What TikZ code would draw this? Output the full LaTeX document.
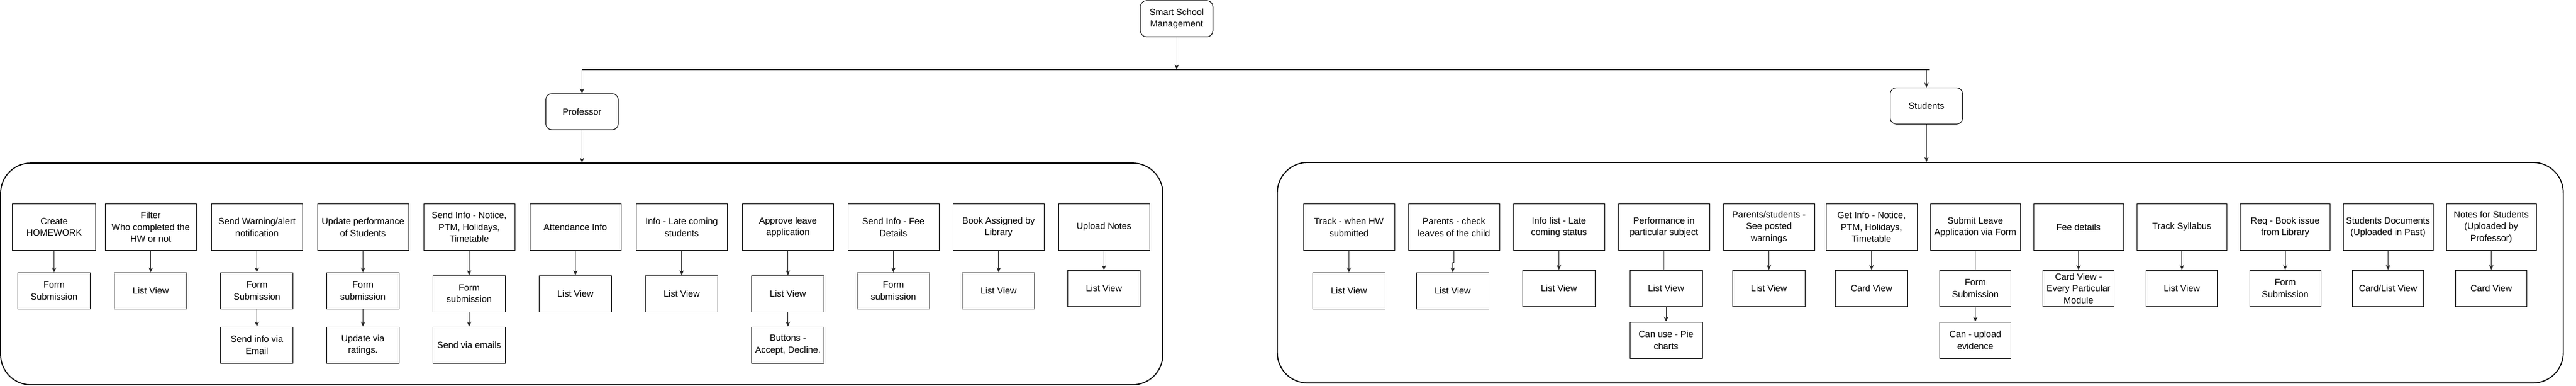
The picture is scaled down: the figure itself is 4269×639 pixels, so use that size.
\documentclass[tikz,border=0pt]{standalone}
\usepackage{fontspec}
\setmainfont{Liberation Sans}
\usetikzlibrary{arrows.meta,calc}
\tikzset{
  txt/.style={font=\fontsize{15pt}{19.5pt}\selectfont, align=center, inner sep=0pt},
  topbox/.style={txt, draw=black, line width=1pt, rectangle, minimum width=151pt, minimum height=77pt},
  subbox/.style={txt, draw=black, line width=1pt, rectangle, minimum width=120pt, minimum height=60pt},
  headbox/.style={txt, draw=black, line width=1pt, rounded corners=10pt, minimum width=120pt, minimum height=60pt},
  cont/.style={draw=black, line width=1.7pt, rounded corners=50pt, inner sep=0pt},
  arr/.style={draw=black!85, line width=0.9pt, -{Stealth[length=8pt,width=7pt,inset=2.5pt]}},
  ln/.style={draw=black!60, line width=0.9pt},
  busline/.style={draw=black, line width=1.8pt}
}
\begin{document}
\begin{tikzpicture}[x=1pt,y=-1pt]
\useasboundingbox (0,0) rectangle (4269,639);

% containers
\node[cont, minimum width=1926pt, minimum height=367pt] (leftc) at (964,453.5) {};
\node[cont, minimum width=2131pt, minimum height=365pt] (rightc) at (3182.3,451.5) {};

% top level
\node[headbox] (ssm) at (1950,31) {Smart School\\Management};
\node[headbox] (prof) at (964.5,185) {Professor};
\node[headbox] (stud) at (3192.5,175.4) {Students};

\coordinate (busL) at (964.5,115);
\coordinate (busM) at (1950,115);
\coordinate (busS) at (3192.5,115);
\coordinate (busR) at (3198,115);
\draw[busline] (busL) -- (busR);
\draw[arr] (ssm) -- (busM);
\draw[arr] (busL) -- (prof);
\draw[arr] (busS) -- (stud);
\draw[arr] (prof) -- (prof.south |- leftc.north);
\draw[arr] (stud) -- (stud.south |- rightc.north);

% ---------- Professor side ----------
\node[topbox, minimum width=137.5pt] (p1) at (89.7,376) {Create\\HOMEWORK};
\node[topbox] (p2) at (249.8,376) {Filter\\Who completed the\\HW or not};
\node[topbox] (p3) at (425.8,376) {Send Warning/alert\\notification};
\node[topbox] (p4) at (601.5,376) {Update performance\\of Students};
\node[topbox] (p5) at (777.5,376) {Send Info - Notice,\\PTM, Holidays,\\Timetable};
\node[topbox] (p6) at (953.5,376) {Attendance Info};
\node[topbox] (p7) at (1129.7,376) {Info - Late coming\\students};
\node[topbox] (p8) at (1305.8,376) {Approve leave\\application};
\node[topbox] (p9) at (1480.5,376) {Send Info - Fee\\Details};
\node[topbox] (p10) at (1654.9,376) {Book Assigned by\\Library};
\node[topbox] (p11) at (1829.5,376) {Upload Notes};

\node[subbox] (p1a) at (89.7,481.3) {Form\\Submission};
\node[subbox] (p2a) at (249.8,481.3) {List View};
\node[subbox] (p3a) at (425.8,481.3) {Form\\Submission};
\node[subbox] (p4a) at (601.5,481.3) {Form\\submission};
\node[subbox] (p5a) at (777.5,486) {Form\\submission};
\node[subbox] (p6a) at (953.5,486) {List View};
\node[subbox] (p7a) at (1129.7,486) {List View};
\node[subbox] (p8a) at (1305.8,486) {List View};
\node[subbox] (p9a) at (1480.5,481.3) {Form\\submission};
\node[subbox] (p10a) at (1654.9,481.3) {List View};
\node[subbox] (p11a) at (1829.5,477.4) {List View};

\node[subbox] (p3b) at (425.8,571) {Send info via\\Email};
\node[subbox] (p4b) at (601.5,571) {Update via\\ratings.};
\node[subbox] (p5b) at (777.5,571) {Send via emails};
\node[subbox] (p8b) at (1305.8,571) {Buttons -\\Accept, Decline.};

\foreach \i in {1,...,11} { \draw[arr] (p\i) -- (p\i a); }
\foreach \i in {3,4,5,8} { \draw[arr] (p\i a) -- (p\i b); }

% ---------- Students side ----------
\node[topbox] (s1) at (2235.5,376) {Track - when HW\\submitted};
\node[topbox] (s2) at (2409.5,376) {Parents - check\\leaves of the child};
\node[topbox] (s3) at (2583.5,376) {Info list - Late\\coming status};
\node[topbox] (s4) at (2757.5,376) {Performance in\\particular subject};
\node[topbox] (s5) at (2931.5,376) {Parents/students -\\See posted\\warnings};
\node[topbox] (s6) at (3101.5,376) {Get Info - Notice,\\PTM, Holidays,\\Timetable};
\node[topbox, minimum width=149pt] (s7) at (3273.5,376) {Submit Leave\\Application via Form};
\node[topbox, minimum width=149pt] (s8) at (3444.5,376) {Fee details};
\node[topbox, minimum width=149pt] (s9) at (3615.8,376) {Track Syllabus};
\node[topbox, minimum width=149pt] (s10) at (3787,376) {Req - Book issue\\from Library};
\node[topbox, minimum width=149pt] (s11) at (3957.5,376) {Students Documents\\(Uploaded in Past)};
\node[topbox, minimum width=149pt] (s12) at (4128.5,376) {Notes for Students\\(Uploaded by\\Professor)};

\node[subbox] (s1a) at (2235.5,481.3) {List View};
\node[subbox] (s2a) at (2407.4,481.3) {List View};
\node[subbox] (s3a) at (2583.5,477.2) {List View};
\node[subbox] (s4a) at (2761,477.2) {List View};
\node[subbox] (s5a) at (2931.5,477.2) {List View};
\node[subbox] (s6a) at (3101.5,477.2) {Card View};
\node[subbox, minimum width=118pt] (s7a) at (3273.5,477.2) {Form\\Submission};
\node[subbox, minimum width=118pt] (s8a) at (3444.5,477.2) {Card View -\\Every Particular\\Module};
\node[subbox, minimum width=118pt] (s9a) at (3615.8,477.2) {List View};
\node[subbox, minimum width=118pt] (s10a) at (3787,477.2) {Form\\Submission};
\node[subbox, minimum width=118pt] (s11a) at (3957.5,477.2) {Card/List View};
\node[subbox, minimum width=118pt] (s12a) at (4128.5,477.2) {Card View};

\node[subbox] (s4b) at (2761,563) {Can use - Pie\\charts};
\node[subbox, minimum width=118pt] (s7b) at (3273.5,563) {Can - upload\\evidence};

\foreach \i in {1,3,5,6,8,9,10,11,12} { \draw[arr] (s\i) -- (s\i a); }
\draw[arr] (s2.south) -- ++(0,19) -| (s2a.north);
\draw[ln] (s4.south) -- ++(0,0) -- (s4.south |- s4a.north);
\draw[ln] (s7) -- (s7a);
\draw[arr] (s4a) -- (s4b);
\draw[arr] (s7a) -- (s7b);
\end{tikzpicture}
\end{document}
